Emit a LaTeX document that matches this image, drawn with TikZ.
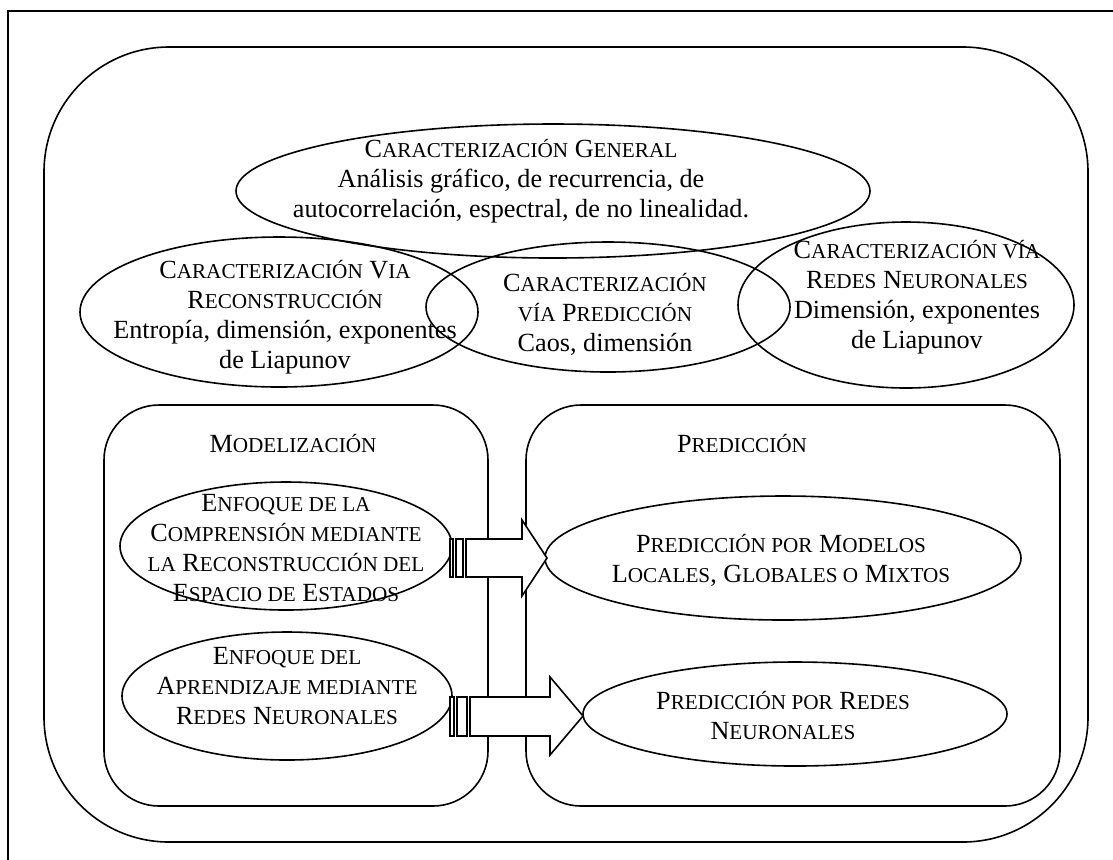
\documentclass[tikz,border=0pt]{standalone}
\usepackage{fontspec}
\setmainfont{Liberation Serif}
\usetikzlibrary{shapes.geometric}
\newcommand\SCs[1]{{\fontsize{10.6}{15}\selectfont #1}}
\begin{document}
\begin{tikzpicture}[x=0.5pt,y=-0.5pt,line width=0.8pt,
  ell/.style={draw,ellipse,inner sep=0pt},
  txt/.style={align=center,font=\fontsize{13.1}{15}\selectfont,inner sep=0pt},
  bigbox/.style={draw,rounded corners=62.5pt},
  smallbox/.style={draw,rounded corners=27.5pt},
  blockarrow/.style={draw,fill=white}]
\useasboundingbox (0,0) rectangle (1113,859);
\clip (0,0) rectangle (1113,859);
% frame
\draw (8,11) rectangle (1140,890);
% big rounded box
\draw[bigbox] (44,47) rectangle (1088,842);
% top ellipses
\node[ell,minimum width=317pt,minimum height=67pt] (eGen) at (553,191) {};
\node[ell,minimum width=199pt,minimum height=75pt] (eRec) at (279,312) {};
\node[ell,minimum width=182pt,minimum height=65pt] (ePre) at (608,307) {};
\node[ell,minimum width=168pt,minimum height=83pt] (eRed) at (906,305) {};
\node[txt] (tGen) at (521,181) {C\SCs{ARACTERIZACIÓN} G\SCs{ENERAL}\\Análisis gráfico, de recurrencia, de\\autocorrelación, espectral, de no linealidad.};
\node[txt] (tRec) at (285,317) {C\SCs{ARACTERIZACIÓN} V\SCs{IA}\\R\SCs{ECONSTRUCCIÓN}\\Entropía, dimensión, exponentes\\de Liapunov};
\node[txt] (tPre) at (605,314) {C\SCs{ARACTERIZACIÓN}\\\SCs{VÍA} P\SCs{REDICCIÓN}\\Caos, dimensión};
\node[txt] (tRed) at (917,297) {C\SCs{ARACTERIZACIÓN VÍA}\\R\SCs{EDES} N\SCs{EURONALES}\\Dimensión, exponentes\\de Liapunov};
% lower boxes
\draw[smallbox] (104,405) rectangle (488,806);
\draw[smallbox] (526,405) rectangle (1060,806);
\node[txt] (tMod) at (293,443) {M\SCs{ODELIZACIÓN}};
\node[txt] (tPrT) at (742,443) {P\SCs{REDICCIÓN}};
% lower ellipses
\node[ell,minimum width=166pt,minimum height=64pt] (eEn1) at (286,546) {};
\node[ell,minimum width=165pt,minimum height=64pt] (eEn2) at (287,696) {};
\node[ell,minimum width=238pt,minimum height=62pt] (ePM) at (783,558) {};
\node[ell,minimum width=212pt,minimum height=52pt] (ePR) at (795,714) {};
\node[txt] (tEn1) at (286,548) {E\SCs{NFOQUE DE LA}\\C\SCs{OMPRENSIÓN MEDIANTE}\\\SCs{LA} R\SCs{ECONSTRUCCIÓN DEL}\\E\SCs{SPACIO DE} E\SCs{STADOS}};
\node[txt] (tEn2) at (287,686) {E\SCs{NFOQUE DEL}\\A\SCs{PRENDIZAJE MEDIANTE}\\R\SCs{EDES} N\SCs{EURONALES}};
\node[txt] (tPM) at (781,560) {P\SCs{REDICCIÓN POR} M\SCs{ODELOS}\\L\SCs{OCALES}, G\SCs{LOBALES O} M\SCs{IXTOS}};
\node[txt] (tPR) at (783,715) {P\SCs{REDICCIÓN POR} R\SCs{EDES}\\N\SCs{EURONALES}};
% striped block arrows
\draw[blockarrow] (450,539) rectangle (453,577);
\draw[blockarrow] (456,539) rectangle (463,577);
\draw[blockarrow] (466,539) -- (522,539) -- (522,520) -- (547,558) -- (522,596) -- (522,577) -- (466,577) -- cycle;
\draw[blockarrow] (450,697) rectangle (454,736);
\draw[blockarrow] (457,697) rectangle (467,736);
\draw[blockarrow] (470,697) -- (550,697) -- (550,677) -- (583,716) -- (550,755) -- (550,736) -- (470,736) -- cycle;
\end{tikzpicture}
\end{document}
